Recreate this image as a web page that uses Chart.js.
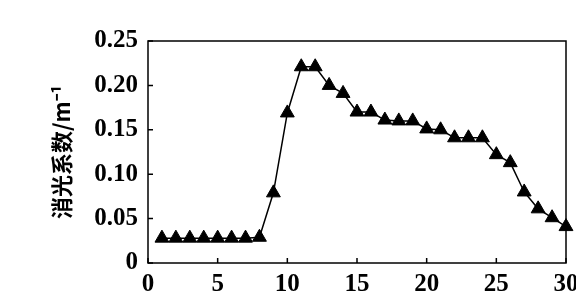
<!DOCTYPE html>
<html>
<head>
<meta charset="utf-8">
<script src="https://cdn.jsdelivr.net/npm/chart.js@4"></script>
<style>
  html, body { margin: 0; padding: 0; background: #fff; }
  canvas { display: block; }
</style>
</head>
<body>
<canvas id="c" width="576" height="293"></canvas>
<script>
// positions along x (0..30) and the extinction coefficient
const positions = [1, 2, 3, 4, 5, 6, 7, 8, 9, 10, 11, 12, 13, 14, 15,
  16, 17, 18, 19, 20, 21, 22, 23, 24, 25, 26, 27, 28, 29, 30];
const extinction = [0.028, 0.028, 0.028, 0.028, 0.028, 0.028, 0.028, 0.029, 0.079, 0.169,
  0.221, 0.221, 0.200, 0.191, 0.170, 0.170, 0.161, 0.160, 0.160, 0.151,
  0.150, 0.141, 0.141, 0.141, 0.122, 0.113, 0.080, 0.061, 0.051, 0.041];
const yTitle = '消光系数/m⁻¹';

const tickFont = { family: 'Liberation Serif', size: 25, weight: 'bold' };

// frame + inward tick marks
const frame = {
  id: 'frame',
  afterDraw(chart) {
    const { ctx, chartArea: a, scales } = chart;
    ctx.save();
    ctx.strokeStyle = '#000';
    ctx.lineWidth = 1.5;
    ctx.strokeRect(a.left, a.top, a.right - a.left, a.bottom - a.top);
    ctx.beginPath();
    scales.y.ticks.forEach(t => {
      const y = scales.y.getPixelForValue(t.value);
      ctx.moveTo(a.left, y); ctx.lineTo(a.left + 5, y);
    });
    scales.x.ticks.forEach(t => {
      const x = scales.x.getPixelForValue(t.value);
      ctx.moveTo(x, a.bottom); ctx.lineTo(x, a.bottom - 5);
    });
    ctx.stroke();
    ctx.restore();
  }
};

new Chart(document.getElementById('c'), {
  type: 'line',
  data: {
    datasets: [{
      data: positions.map((p, i) => ({ x: p, y: extinction[i] })),
      borderColor: '#000',
      borderWidth: 1.5,
      tension: 0,
      pointStyle: 'triangle',
      pointRadius: 8,
      pointBackgroundColor: '#000',
      pointBorderColor: '#000',
      pointBorderWidth: 1,
      clip: false
    }]
  },
  options: {
    responsive: false,
    animation: false,
    devicePixelRatio: 1,
    layout: { padding: { top: 41, right: 10, left: 0, bottom: 0 } },
    plugins: { legend: { display: false }, tooltip: { enabled: false } },
    scales: {
      x: {
        type: 'linear',
        min: 0, max: 30,
        grid: { display: false, drawTicks: false },
        border: { display: false },
        ticks: { stepSize: 5, color: '#000', font: tickFont, padding: 7, maxRotation: 0 },
        afterFit(s) { s.height = 30; s.paddingLeft = 0; s.paddingRight = 0; }
      },
      y: {
        min: 0, max: 0.25,
        grid: { display: false, drawTicks: false },
        border: { display: false },
        ticks: {
          stepSize: 0.05, color: '#000', font: tickFont, padding: 10,
          callback: v => v === 0 ? '0' : v.toFixed(2)
        },
        title: {
          display: true, text: yTitle, color: '#000',
          font: { family: 'Noto Sans CJK SC', size: 22, weight: 'bold' },
          padding: { top: 48, bottom: 0 }
        },
        afterFit(s) { s.width = 148; s.paddingTop = 0; s.paddingBottom = 0; }
      }
    }
  },
  plugins: [frame]
});
</script>
</body>
</html>
